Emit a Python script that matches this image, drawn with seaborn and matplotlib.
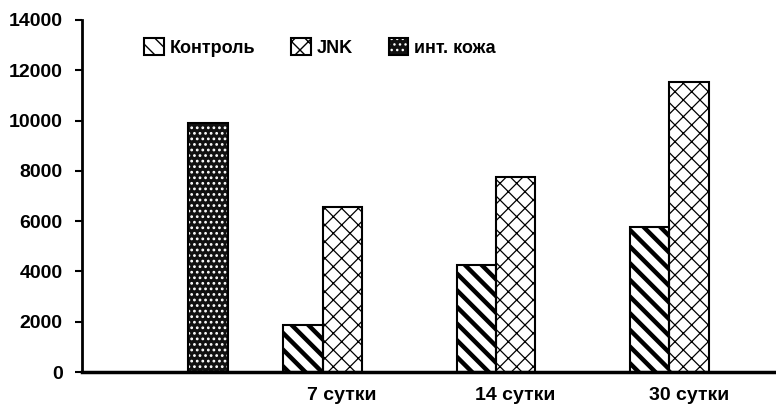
import numpy as np
import pandas as pd
import matplotlib
matplotlib.use("Agg")
import matplotlib.pyplot as plt
from matplotlib.patches import Patch
from matplotlib.legend_handler import HandlerTuple
import seaborn as sns

# Data
categories = ["", "7 сутки", "14 сутки", "30 сутки"]
series = ["Контроль", "JNK", "инт. кожа"]
control = [np.nan, 1850, 4250, 5750]
jnk = [np.nan, 6550, 7750, 11550]
intact_skin = [9900, np.nan, np.nan, np.nan]
y_ticks = [0, 2000, 4000, 6000, 8000, 10000, 12000, 14000]

df = pd.DataFrame({
    "period": categories * 3,
    "group": [s for s in series for _ in categories],
    "value": control + jnk + intact_skin,
})

sns.set_style("white")
plt.rcParams["font.family"] = ["Liberation Sans", "DejaVu Sans"]
plt.rcParams["font.weight"] = "bold"
plt.rcParams["hatch.linewidth"] = 1.0
plt.rcParams["text.color"] = "black"
plt.rcParams["xtick.color"] = "black"
plt.rcParams["ytick.color"] = "black"
plt.rcParams["xtick.labelcolor"] = "black"
plt.rcParams["ytick.labelcolor"] = "black"

fig = plt.figure(figsize=(7.76, 4.08), dpi=100)
ax = fig.add_axes([0.1057, 0.0882, 0.894, 0.863])

sns.barplot(data=df, x="period", y="value", hue="group",
            order=categories, hue_order=series, width=0.68,
            ax=ax, legend=False, errorbar=None)

styles = {
    "Контроль": dict(facecolor="white", hatch="\\\\", hatch_lw=3.2, hc="black"),
    "JNK": dict(facecolor="white", hatch="xx", hatch_lw=0.9, hc="black"),
    "инт. кожа": dict(facecolor="#111111", hatch="...", hatch_lw=1.2, hc="white"),
}

def style_bar(p, st):
    p.set_facecolor(st["facecolor"])
    p.set_hatch(st["hatch"])
    p.set_edgecolor(st["hc"])
    p.set_linewidth(0)
    if hasattr(p, "set_hatch_linewidth"):
        p.set_hatch_linewidth(st["hatch_lw"])
    # black outline on top, using the bar's own geometry
    ax.add_patch(plt.Rectangle(p.get_xy(), p.get_width(), p.get_height(),
                               facecolor="none", edgecolor="black",
                               linewidth=1.5, zorder=p.get_zorder() + 0.1))

for name, cont in zip(series, ax.containers):
    for p in cont.patches:
        if np.isfinite(p.get_height()) and p.get_height() > 0:
            style_bar(p, styles[name])

# Axes
ax.set_ylim(0, 14000)
ax.set_xlim(-0.5, 3.5)
ax.set_yticks(y_ticks)
ax.set_yticklabels([str(t) for t in y_ticks], fontsize=14, fontweight="bold",
                   color="black")
ax.set_xticks(range(len(categories)))
ax.set_xticklabels(categories, fontsize=14, fontweight="bold", color="black")
ax.set_xticks([0.5, 1.5, 2.5], minor=True)
ax.tick_params(axis="x", which="major", length=0, pad=11)
ax.tick_params(axis="x", which="minor", length=5, width=1.5, direction="out",
               color="black")
ax.tick_params(axis="y", length=5, width=1.5, direction="out", pad=9,
               color="black", left=True)
ax.set_xlabel("")
ax.set_ylabel("")
for side in ("top", "right"):
    ax.spines[side].set_visible(False)
ax.spines["left"].set_linewidth(2)
ax.spines["bottom"].set_linewidth(2.5)
ax.spines["left"].set_color("black")
ax.spines["bottom"].set_color("black")

# Legend: hatched swatch with a black frame drawn over it
handles = []
for name in series:
    st = styles[name]
    fill = Patch(facecolor=st["facecolor"], edgecolor=st["hc"],
                 hatch=st["hatch"], linewidth=0)
    frame = Patch(facecolor="none", edgecolor="black", linewidth=1.5)
    handles.append((fill, frame))
leg = ax.legend(handles, series, ncol=3, loc="upper left",
                bbox_to_anchor=(0.066, 0.995), frameon=False,
                handler_map={tuple: HandlerTuple(ndivide=1, pad=0)},
                handlelength=1.1, handleheight=1.1, handletextpad=0.3,
                columnspacing=2.0, prop={"weight": "bold", "size": 13})
for t in leg.get_texts():
    t.set_color("black")

fig.savefig("out.png", dpi=100)
